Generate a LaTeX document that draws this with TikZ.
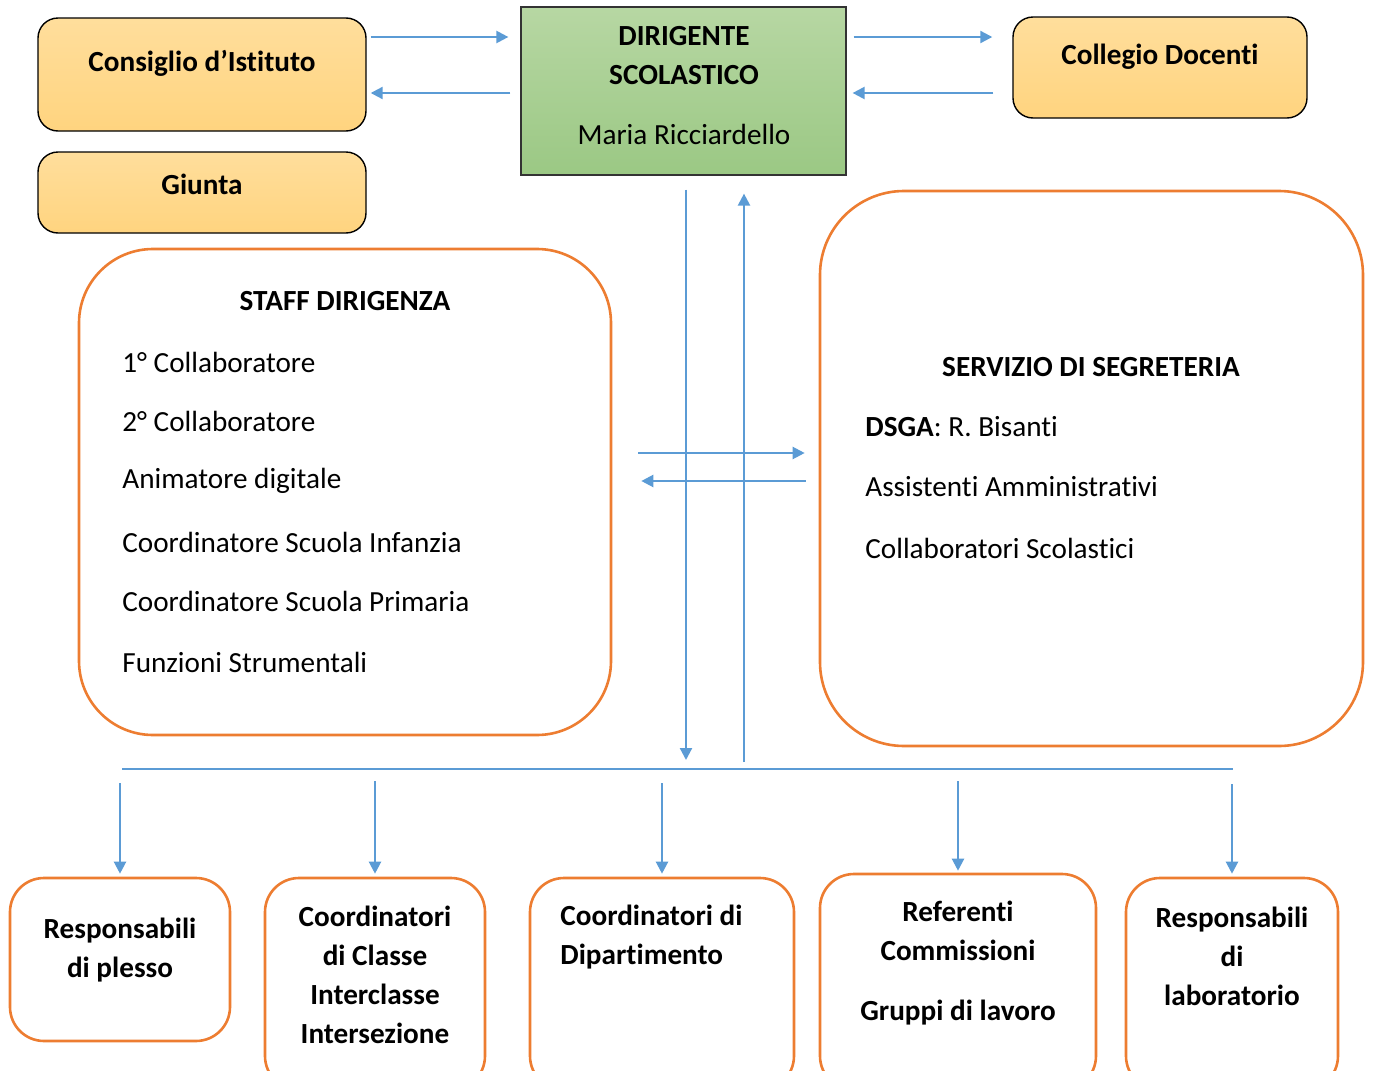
\documentclass[tikz,border=0pt]{standalone}
\usepackage{fontspec}
\setmainfont{Carlito}[Ligatures=NoCommon]
\usetikzlibrary{arrows.meta}

\definecolor{frecce}{HTML}{5B9BD5}
\definecolor{arancio}{HTML}{ED7D31}
\definecolor{giallo1}{HTML}{FFDE9C}
\definecolor{giallo2}{HTML}{FFD47F}
\definecolor{verde1}{HTML}{B7D7A3}
\definecolor{verde2}{HTML}{9BC884}

\newcommand{\corpo}{\fontsize{14.6}{19.5}\selectfont}

\tikzset{
  organo/.style={draw=black, line width=0.7pt, rounded corners=10pt, top color=giallo1, bottom color=giallo2},
  riquadro/.style={draw=arancio, line width=1.3pt, fill=white},
  freccia/.style={draw=frecce, line width=1.1pt, -{Triangle[length=6pt,width=6pt]}},
  titolo/.style={font=\corpo\bfseries, align=center},
  voce/.style={font=\corpo, anchor=west},
}

\begin{document}
\begin{tikzpicture}[x=0.5pt, y=-0.5pt, inner sep=0pt]
  \useasboundingbox (0,0) rectangle (1373,1071);
  \clip (0,0) rectangle (1373,1071);

    % organi collegiali e dirigente
    \node[organo, minimum width=164pt, minimum height=56.5pt] (cons) at (202,74.5) {};
    \node[titolo] (consT) at (202,63) {Consiglio d’Istituto};

    \node[organo, minimum width=164pt, minimum height=40.5pt] (giunta) at (202,192.5) {};
    \node[titolo] (giuntaT) at (202,184) {Giunta};

    \node[organo, minimum width=147pt, minimum height=50.5pt] (coll) at (1160,67.5) {};
    \node[titolo] (collT) at (1160,57) {Collegio Docenti};

    \node[draw=black!80, line width=0.6pt, top color=verde1, bottom color=verde2,
      minimum width=162.5pt, minimum height=84pt] (dir) at (683.5,91) {};
    \node[titolo] (dirT) at (684,86) {DIRIGENTE\\SCOLASTICO\\[10.5pt]\mdseries Maria Ricciardello};

    % riquadri grandi
    \node[riquadro, rounded corners=37pt, minimum width=266pt, minimum height=243pt] (staff) at (345,492) {};
    \node[titolo] (staffT) at (345,301) {STAFF DIRIGENZA};
    \node[voce] (s1) at (122,362) {1° Collaboratore};
    \node[voce] (s2) at (122,421) {2° Collaboratore};
    \node[voce] (s3) at (122,481) {Animatore digitale};
    \node[voce] (s4) at (122,542) {Coordinatore Scuola Infanzia};
    \node[voce] (s5) at (122,601) {Coordinatore Scuola Primaria};
    \node[voce] (s6) at (122,662) {Funzioni Strumentali};

    \node[riquadro, rounded corners=42pt, minimum width=271.5pt, minimum height=277.5pt] (segr) at (1091.5,468.5) {};
    \node[titolo] (segrT) at (1091,367) {SERVIZIO DI SEGRETERIA};
    \node[voce] (g1) at (865,427) {\textbf{DSGA}: R. Bisanti};
    \node[voce] (g2) at (865,487) {Assistenti Amministrativi};
    \node[voce] (g3) at (865,548) {Collaboratori Scolastici};

    % riquadri in basso
    \node[riquadro, rounded corners=17pt, minimum width=110pt, minimum height=81.5pt] (b1) at (120,959.5) {};
    \node[titolo] (b1T) at (120,950) {Responsabili\\di plesso};

    \node[riquadro, rounded corners=17pt, minimum width=110pt, minimum height=106pt] (b2) at (375,984) {};
    \node[titolo] (b2T) at (375,975) {Coordinatori\\di Classe\\Interclasse\\Intersezione};

    \node[riquadro, rounded corners=17pt, minimum width=132pt, minimum height=106pt] (b3) at (662,984) {};
    \node[titolo, anchor=west, align=left] (b3T) at (560,937) {Coordinatori di\\Dipartimento};

    \node[riquadro, rounded corners=17pt, minimum width=138pt, minimum height=108pt] (b4) at (958,982) {};
    \node[titolo] (b4T) at (958,963) {Referenti\\Commissioni\\[10.5pt]Gruppi di lavoro};

    \node[riquadro, rounded corners=17pt, minimum width=106pt, minimum height=106pt] (b5) at (1232,984) {};
    \node[titolo] (b5T) at (1232,956) {Responsabili\\di\\laboratorio};

    % frecce in alto
    \coordinate (su) at (0,37);
    \coordinate (giu) at (0,93);
    \draw[freccia, shorten <=2pt, shorten >=6pt] (cons.east |- su) -- (dir.west |- su);
    \draw[freccia, shorten <=5pt, shorten >=2pt] (dir.west |- giu) -- (cons.east |- giu);
    \draw[freccia, shorten <=3.5pt, shorten >=10pt] (dir.east |- su) -- (coll.west |- su);
    \draw[freccia, shorten <=9.5pt, shorten >=3pt] (coll.west |- giu) -- (dir.east |- giu);

    % linea di distribuzione
    \coordinate (busS) at (122,769);
    \coordinate (busD) at (1233,769);
    \draw[frecce, line width=0.8pt] (busS) -- (busD);

    \coordinate (scendi) at (686,0);
    \coordinate (sali) at (744,0);
    \draw[freccia, shorten <=7pt, shorten >=4.5pt] (dir.south -| scendi) -- (busS -| scendi);
    \draw[freccia, shorten <=3.5pt, shorten >=9pt] (busS -| sali) -- (dir.south -| sali);

    % staff <-> segreteria
    \coordinate (m1) at (0,453);
    \coordinate (m2) at (0,481);
    \draw[freccia, shorten <=13pt, shorten >=7pt] (staff.east |- m1) -- (segr.west |- m1);
    \draw[freccia, shorten <=6.5pt, shorten >=14.5pt] (segr.west |- m2) -- (staff.east |- m2);

    % frecce verso il basso
    \draw[freccia, shorten <=7pt, shorten >=1.5pt] (busS -| b1.north) -- (b1.north);
    \draw[freccia, shorten <=6pt, shorten >=1.5pt] (busS -| b2.north) -- (b2.north);
    \draw[freccia, shorten <=7pt, shorten >=1.5pt] (busS -| b3.north) -- (b3.north);
    \draw[freccia, shorten <=6pt, shorten >=1pt] (busS -| b4.north) -- (b4.north);
    \draw[freccia, shorten <=7.5pt, shorten >=1.5pt] (busS -| b5.north) -- (b5.north);
  \end{tikzpicture}
\end{document}
